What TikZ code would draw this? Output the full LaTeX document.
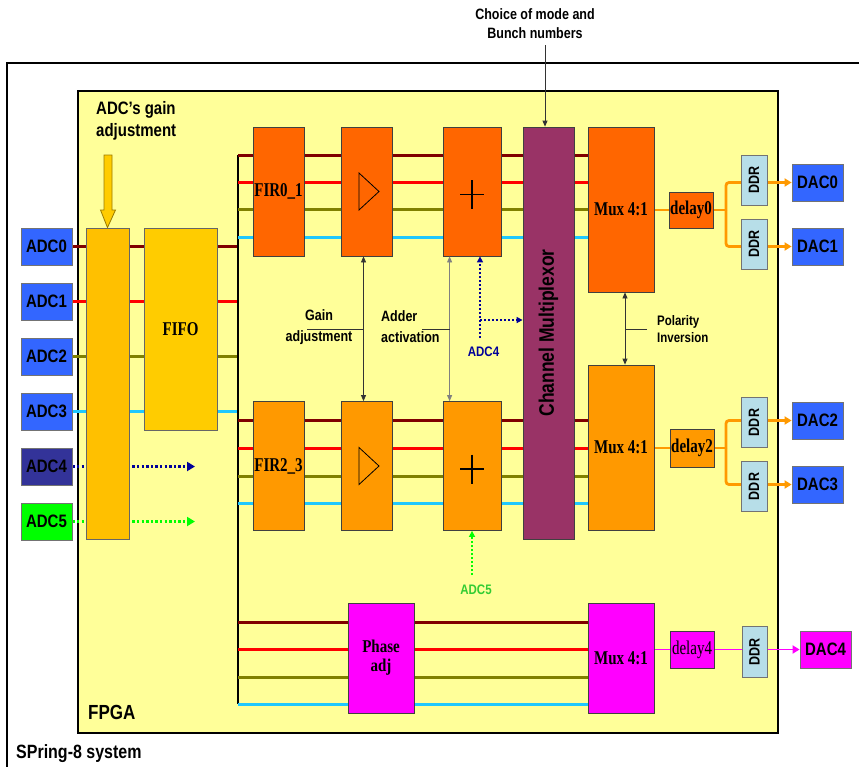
\documentclass[tikz,border=0pt]{standalone}
\usepackage{fontspec}
\usepackage{graphicx}
\setmainfont{Liberation Serif}
\setsansfont{Liberation Sans}
\usetikzlibrary{arrows.meta,calc}
\pgfdeclarelayer{back}
\pgfdeclarelayer{bg}
\pgfsetlayers{back,bg,main}
\definecolor{fpgaY}{HTML}{FFFF99}
\definecolor{dred}{HTML}{800000}
\definecolor{lred}{HTML}{FF0000}
\definecolor{olv}{HTML}{808000}
\definecolor{cyn}{HTML}{1FC8FF}
\definecolor{gold}{HTML}{FFCC00}
\definecolor{goldB}{HTML}{FFC000}
\definecolor{orgA}{HTML}{FF6600}
\definecolor{orgB}{HTML}{FF9900}
\definecolor{plum}{HTML}{993366}
\definecolor{mag}{HTML}{FF00FF}
\definecolor{ddrC}{HTML}{B7DEE8}
\definecolor{adcB}{HTML}{3366FF}
\definecolor{adcN}{HTML}{333399}
\definecolor{adcG}{HTML}{00FF00}
\definecolor{nav}{HTML}{000099}
\definecolor{grn}{HTML}{33CC33}
\newcommand{\vsa}[1]{\scalebox{1}[1.2]{#1}}
\newcommand{\vsb}[1]{\scalebox{1}[1.3]{#1}}
\newcommand{\twol}[3]{\scalebox{1}[1.2]{\renewcommand{\arraystretch}{#1}\begin{tabular}{@{}l@{}}#2\\#3\end{tabular}}}
\newcommand{\twoc}[3]{\scalebox{1}[1.2]{\renewcommand{\arraystretch}{#1}\begin{tabular}{@{}c@{}}#2\\#3\end{tabular}}}
\begin{document}
\begin{tikzpicture}[x=1pt,y=-1pt,
  blk/.style={draw=black!75, line width=0.8pt, inner sep=0pt, align=center,
    font=\bfseries\fontsize{15}{17}\selectfont},
  adc/.style={blk, draw=black!55, minimum width=51pt, minimum height=37pt,
    font=\sffamily\bfseries\fontsize{15}{15}\selectfont},
  ddrbox/.style={blk, draw=black!55, fill=ddrC, minimum width=26pt, minimum height=50pt,
    font=\sffamily\bfseries\fontsize{12.5}{12}\selectfont},
  stage/.style={blk, minimum width=51pt, minimum height=129pt},
  sig/.style={line width=3pt},
  outl/.style={line width=2.8pt, orgB, rounded corners=3pt, -{Triangle[length=7pt,width=8pt]}},
  ctl/.style={line width=0.8pt, black!80, {Triangle[length=6pt,width=5pt]}-{Triangle[length=6pt,width=5pt]}},
  lab/.style={font=\sffamily\bfseries\fontsize{12.5}{14}\selectfont, inner sep=0pt},
  dots/.style={line width=2.6pt, dash pattern=on 2.4pt off 2.2pt, -{Triangle[length=8pt,width=9pt]}},
]
\useasboundingbox (0,0) rectangle (859,766);
\clip (0,0) rectangle (859,766);

\begin{pgfonlayer}{back}
  \draw[line width=2.2pt] (7,63) rectangle (900,800);
  \node[draw, line width=2pt, fill=fpgaY, minimum width=700pt, minimum height=642pt, inner sep=0pt] (fpga) at (428,412) {};
\end{pgfonlayer}

% texts
\node[anchor=base west, inner sep=0pt, font=\sffamily\bfseries\fontsize{17}{17}\selectfont] (fpgalbl) at (88,719) {\vsa{FPGA}};
\node[anchor=base west, inner sep=0pt, font=\sffamily\bfseries\fontsize{16}{16}\selectfont] (syslbl) at (16,758) {\vsa{SPring-8 system}};
\node[lab, anchor=west, font=\sffamily\bfseries\fontsize{15}{16}\selectfont] (adcgain) at (96,121) {\twol{1.15}{ADC's gain}{adjustment}};
\node[lab, font=\sffamily\bfseries\fontsize{12.5}{14}\selectfont] (choice) at (535,25.5) {\twoc{1.1}{Choice of mode and}{Bunch numbers}};

% ADCs
\node[adc, fill=adcB] (adc0) at (46.5,246.5) {\vsa{ADC0}};
\node[adc, fill=adcB] (adc1) at (46.5,301.5) {\vsa{ADC1}};
\node[adc, fill=adcB] (adc2) at (46.5,356.5) {\vsa{ADC2}};
\node[adc, fill=adcB] (adc3) at (46.5,411.5) {\vsa{ADC3}};
\node[adc, fill=adcN] (adc4) at (46.5,466.5) {\vsa{ADC4}};
\node[adc, fill=adcG] (adc5) at (46.5,521.5) {\vsa{ADC5}};

% gain block and FIFO
\node[blk, draw=black!60, fill=goldB, minimum width=43pt, minimum height=311pt] (gain) at (107.5,383.5) {};
\node[blk, draw=black!60, fill=gold, minimum width=73pt, minimum height=202pt] (fifo) at (180.5,329) {\vsb{FIFO}};
\draw[fill=gold, draw=gold!60!black, line width=0.8pt] (104,155) -- (112,155) -- (112,210) -- (115.5,210) -- (gain.north) -- (100.5,210) -- (104,210) -- cycle;

% top group
\node[stage, fill=orgA] (fir01) at (278.5,191.5) {\vsb{FIR0\_1}};
\node[stage, fill=orgA] (amp1) at (366.5,191.5) {};
\node[stage, fill=orgA, minimum width=58pt] (add1) at (472,191.5) {};
\node[blk, fill=orgA, minimum width=66pt, minimum height=165pt] (mux1) at (621,209.5) {\vsb{Mux 4:1}};
\node[blk, fill=orgA, minimum width=44pt, minimum height=36pt] (delay0) at (691,210) {\vsb{delay0}};
\node[ddrbox] (ddr0) at (754,180) {\rotatebox{90}{\vsa{DDR}}};
\node[ddrbox] (ddr1) at (754,244) {\rotatebox{90}{\vsa{DDR}}};
\node[adc, fill=adcB] (dac0) at (817.5,182.5) {\vsa{DAC0}};
\node[adc, fill=adcB] (dac1) at (817.5,246.5) {\vsa{DAC1}};

% bottom group
\node[stage, fill=orgB] (fir23) at (278.5,466) {\vsb{FIR2\_3}};
\node[stage, fill=orgB] (amp2) at (366.5,466) {};
\node[stage, fill=orgB, minimum width=58pt] (add2) at (472,466) {};
\node[blk, fill=orgB, minimum width=66pt, minimum height=165pt] (mux2) at (621,447.5) {\vsb{Mux 4:1}};
\node[blk, fill=orgB, minimum width=44pt, minimum height=38pt] (delay2) at (692,448) {\vsb{delay2}};
\node[ddrbox] (ddr2) at (754,422.5) {\rotatebox{90}{\vsa{DDR}}};
\node[ddrbox] (ddr3) at (754,486.5) {\rotatebox{90}{\vsa{DDR}}};
\node[adc, fill=adcB] (dac2) at (817.5,420.5) {\vsa{DAC2}};
\node[adc, fill=adcB] (dac3) at (817.5,484.5) {\vsa{DAC3}};

% channel multiplexor
\node[blk, fill=plum, minimum width=51pt, minimum height=412pt] (chan) at (548.5,333)
  {\rotatebox{90}{\sffamily\bfseries\fontsize{17.5}{17}\selectfont\vsa{Channel Multiplexor}}};

% amp triangles and plus signs
\draw[line width=0.8pt] ($(amp1)+(-7.5,-18.5)$) -- ($(amp1)+(12.5,0)$) -- ($(amp1)+(-7.5,18.5)$) -- cycle;
\draw[line width=0.8pt] ($(amp2)+(-7.5,-18.5)$) -- ($(amp2)+(12.5,0)$) -- ($(amp2)+(-7.5,18.5)$) -- cycle;
\draw[line width=1.6pt] ($(add1)+(-12,3)$) -- ($(add1)+(12,3)$) ($(add1)+(0,-11.5)$) -- ($(add1)+(0,17.5)$);
\draw[line width=1.6pt] ($(add2)+(-12,3)$) -- ($(add2)+(12,3)$) ($(add2)+(0,-11.5)$) -- ($(add2)+(0,17.5)$);

% bottom row
\node[blk, fill=mag, minimum width=66pt, minimum height=110pt] (phase) at (381,658) {\twoc{0.95}{Phase}{adj}};
\node[blk, fill=mag, minimum width=66pt, minimum height=110pt] (mux3) at (621,658) {\vsb{Mux 4:1}};
\node[blk, fill=mag, minimum width=44pt, minimum height=37pt, font=\fontsize{15}{17}\selectfont] (delay4) at (692,649.5) {\vsb{delay4}};
\node[ddrbox, minimum width=25pt, minimum height=51pt] (ddr4) at (754.5,651.5) {\rotatebox{90}{\vsa{DDR}}};
\node[adc, fill=mag] (dac4) at (825.5,649.5) {\vsa{DAC4}};

% labels
\node[lab] (gainlbl) at (319,327) {\twoc{1.2}{Gain}{adjustment}};
\node[lab, anchor=west] (addlbl) at (381,328) {\twol{1.2}{Adder}{activation}};
\node[lab, anchor=west, font=\sffamily\bfseries\fontsize{11.5}{13}\selectfont] (pollbl) at (657,330.5) {\twol{1.1}{Polarity}{Inversion}};
\node[lab, text=nav, font=\sffamily\bfseries\fontsize{11.5}{12}\selectfont] (adc4lbl) at (483.5,352) {\vsa{ADC4}};
\node[lab, text=grn, font=\sffamily\bfseries\fontsize{11.5}{12}\selectfont] (adc5lbl) at (476,589.5) {\vsa{ADC5}};

% coordinates
\coordinate (bustop) at (238,155);
\coordinate (busbot) at (238,704);
\coordinate (t2) at (238,182);
\coordinate (t3) at (238,209);
\coordinate (t4) at (238,237);
\coordinate (m1) at (238,420);
\coordinate (m2) at (238,448);
\coordinate (m3) at (238,476);
\coordinate (m4) at (238,503);
\coordinate (b1) at (238,622);
\coordinate (b2) at (238,649);
\coordinate (b3) at (238,677);
\coordinate (choicept) at (545,45);
\coordinate (ampx) at ($(amp1.south)+(-3,0)$);
\coordinate (addx) at ($(add1.south west)+(7,0)$);
\coordinate (polx) at ($(mux1.south)+(4,0)$);
\coordinate (gl) at (307,329);
\coordinate (al) at (422,329);
\coordinate (pl) at (647,329);
\coordinate (a4top) at (480,338);
\coordinate (a4mid) at (480,320);
\coordinate (a5bot) at (472,575);
\coordinate (in4) at (195,466.5);
\coordinate (in5) at (195,521.5);
\coordinate (br0) at (726,210);
\coordinate (br2) at (726,448);

\begin{pgfonlayer}{bg}
  % ADC inputs to bus
  \draw[sig, dred] (adc0.east) -- (adc0.east -| bustop);
  \draw[sig, lred] (adc1.east) -- (adc1.east -| bustop);
  \draw[sig, olv] (adc2.east) -- (adc2.east -| bustop);
  \draw[sig, cyn] (adc3.east) -- (adc3.east -| bustop);
  % bus
  \draw[line width=2pt] (bustop) -- (busbot);
  % top group rows
  \draw[sig, dred] (bustop) -- (bustop -| mux1.west);
  \draw[sig, lred] (t2) -- (t2 -| mux1.west);
  \draw[sig, olv] (t3) -- (t3 -| mux1.west);
  \draw[sig, cyn] (t4) -- (t4 -| mux1.west);
  % bottom group rows
  \draw[sig, dred] (m1) -- (m1 -| mux2.west);
  \draw[sig, lred] (m2) -- (m2 -| mux2.west);
  \draw[sig, olv] (m3) -- (m3 -| mux2.west);
  \draw[sig, cyn] (m4) -- (m4 -| mux2.west);
  % bottom row
  \draw[sig, dred] (b1) -- (b1 -| mux3.west);
  \draw[sig, lred] (b2) -- (b2 -| mux3.west);
  \draw[sig, olv] (b3) -- (b3 -| mux3.west);
  \draw[sig, cyn] (busbot) -- (busbot -| mux3.west);
  % outputs
  \draw[line width=2pt, orgB] (mux1.east |- br0) -- (delay0.west |- br0);
  \draw[line width=2.8pt, orgB] (delay0.east |- br0) -- (br0);
  \draw[outl] (br0) |- (dac0.west);
  \draw[outl] (br0) |- (dac1.west);
  \draw[line width=2pt, orgB] (mux2.east |- br2) -- (delay2.west |- br2);
  \draw[line width=2.8pt, orgB] (delay2.east |- br2) -- (br2);
  \draw[outl] (br2) |- (dac2.west);
  \draw[outl] (br2) |- (dac3.west);
  \draw[line width=1.8pt, mag] (mux3.east |- delay4) -- (delay4.west);
  \draw[line width=1.8pt, mag, -{Triangle[length=7pt,width=8pt]}] (delay4.east) -- (dac4.west);
  % ADC4/5 dotted inputs
  \draw[line width=2.6pt, nav, dash pattern=on 2.4pt off 2.2pt] (adc4.east) -- (gain.west |- adc4);
  \draw[line width=2.6pt, adcG, dash pattern=on 2.4pt off 2.2pt] (adc5.east) -- (gain.west |- adc5);
\end{pgfonlayer}

\coordinate (o4) at ($(gain.east |- adc4)+(3,0)$);
\coordinate (o5) at ($(gain.east |- adc5)+(3,0)$);
\draw[dots, nav] (o4) -- (in4);
\draw[dots, adcG] (o5) -- (in5);

% control arrows
\draw[line width=0.8pt, black!80, -{Triangle[length=6pt,width=5pt]}] (choicept) -- (choicept |- chan.north);
\draw[ctl] (ampx) -- (ampx |- amp2.north);
\draw[ctl, black!50] (addx) -- (addx |- add2.north);
\draw[ctl] (polx) -- (polx |- mux2.north);
\draw[line width=0.8pt, black!80] (gl) -- (gl -| ampx);
\draw[line width=0.8pt, black!80] (al) -- (al -| addx);
\draw[line width=0.8pt, black!80] (pl) -- (pl -| polx);

% ADC4 / ADC5 control
\draw[line width=2pt, nav, dash pattern=on 2pt off 2pt, -{Triangle[length=6pt,width=6pt]}] (a4top) -- (a4top |- add1.south);
\draw[line width=2pt, nav, dash pattern=on 2pt off 2pt, -{Triangle[length=6pt,width=6pt]}] (a4mid) -- (a4mid -| chan.west);
\draw[line width=2pt, adcG, dash pattern=on 2pt off 2pt, -{Triangle[length=6pt,width=6pt]}] (a5bot) -- (a5bot |- add2.south);
\end{tikzpicture}
\end{document}
